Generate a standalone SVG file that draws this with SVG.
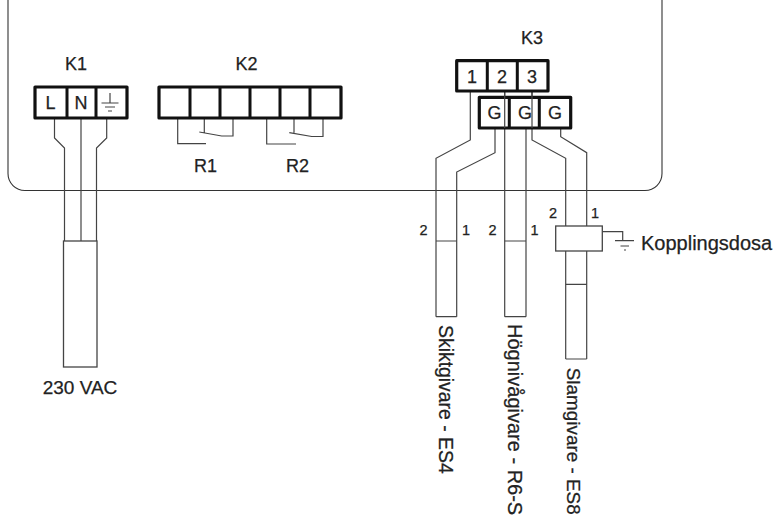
<svg xmlns="http://www.w3.org/2000/svg" width="777" height="515" viewBox="0 0 777 515">
<style>
text{font-family:"Liberation Sans",Arial,sans-serif;fill:#222;font-size:18px;stroke:#222;stroke-width:.25}
.l{font-size:20px}
.r{font-size:19.400px}
.s19{font-size:18.900px}
.c{text-anchor:middle}
.v{font-size:19px;text-anchor:middle}
.n{font-size:14.500px;text-anchor:middle}
.term{font-size:18px;text-anchor:middle}
.b{fill:#fff;stroke:#111;stroke-width:3.2;stroke-linejoin:round}
.d{fill:none;stroke:#111;stroke-width:3}
.w{fill:none;stroke:#444;stroke-width:1.2}
.s{fill:#fff;stroke:#444;stroke-width:1.3}
.e{fill:none;stroke:#333;stroke-width:1.1}
</style>
<rect width="777" height="515" fill="#fff"/>
<path id="enclosure" class="e" d="M8 0V173.500A17 17 0 0 0 25 190.500H645A17 17 0 0 0 662 173.500V0"/>
<g id="connectors">
<path class="w" d="M54.500 118V138L64.500 148V241"/>
<path class="w" d="M81 118V241"/>
<path class="w" d="M106.700 118V138L96.500 148V241"/>
<path class="w" d="M177.700 118V143.700H206"/>
<path class="w" d="M204.300 118V132.700M199.300 132L221.700 136H233V118"/>
<path class="w" d="M266.700 118V144H296"/>
<path class="w" d="M294 118V132.700M289.300 132.700L311.700 136.500H323V118"/>
<path class="w" d="M470.300 91V140L436 158.300V316.700"/>
<path class="w" d="M495 128V152.700L456.700 172V316.700"/>
<path class="w" d="M504.700 91V316.700"/>
<path class="w" d="M526 128V316.700"/>
<path class="w" d="M532 91V140L565.700 158.300V359"/>
<path class="w" d="M560.700 128V136.700L586.700 152.700V359"/>
<path class="w" d="M436 241H456.700M504.700 241H526M565.700 284.300H586.700"/>
<path class="w" d="M436 316.700H456.700M504.700 316.700H526M565.700 359H586.700"/>
<path class="w" d="M602.300 231.700H622.700V240.700M615 240.700H634M620.500 246H629M624 250H626"/>
</g>
<g id="K1">
<rect class="b" x="35" y="87" width="92" height="31"/>
<path class="d" d="M67 87V118M96 87V118"/>
<text class="c" x="76" y="70">K1</text>
<text class="term" x="50.500" y="109">L</text>
<text class="term" x="81" y="109">N</text>
<path class="w" d="M110 93V103M101.500 103H118.500M105 107H115M108 111H112"/>
</g>
<g id="K2">
<rect class="b" x="159" y="87" width="182" height="31"/>
<path class="d" d="M190 87V118M220 87V118M250 87V118M280 87V118M310 87V118"/>
<text class="c" x="246.500" y="70">K2</text>
</g>
<text id="R1" class="c" x="205.500" y="172">R1</text>
<text id="R2" class="c" x="297.500" y="172">R2</text>
<g id="K3">
<rect class="b" x="479.300" y="97.300" width="91.400" height="30.700"/>
<path class="d" d="M509.300 97.300V128M539.300 97.300V128"/>
<path class="w" d="M504.700 91V128M532 91V128"/>
<text class="term" x="494.500" y="118.500">G</text>
<text class="term" x="525" y="118.500">G</text>
<text class="term" x="555" y="118.500">G</text>
<rect class="b" x="456.700" y="60.700" width="91.300" height="30.300"/>
<path class="d" d="M487.300 60.700V91M517.300 60.700V91"/>
<text class="term" x="472" y="83">1</text>
<text class="term" x="502" y="83">2</text>
<text class="term" x="532" y="83">3</text>
<text class="c" x="532" y="44">K3</text>
</g>
<g id="cable230">
<rect class="s" x="63.500" y="241" width="33.500" height="126"/>
<text class="v" x="80" y="394">230 VAC</text>
</g>
<g id="Kopplingsdosa">
<rect class="s" x="555.700" y="226" width="46.600" height="25"/>
<text class="l" x="641" y="250">Kopplingsdosa</text>
</g>
<g id="labels">
<text class="n" x="423.500" y="235">2</text>
<text class="n" x="466" y="235">1</text>
<text class="n" x="492.500" y="235">2</text>
<text class="n" x="534.500" y="235">1</text>
<text class="n" x="553" y="218">2</text>
<text class="n" x="595" y="218">1</text>
<text class="r" transform="translate(439.300 325) rotate(90)">Skiktgivare - ES4</text>
<text class="l" transform="translate(508 324) rotate(90)">Högnivågivare - R6-S</text>
<text class="s19" transform="translate(567 367.700) rotate(90)">Slamgivare - ES8</text>
</g>
</svg>
